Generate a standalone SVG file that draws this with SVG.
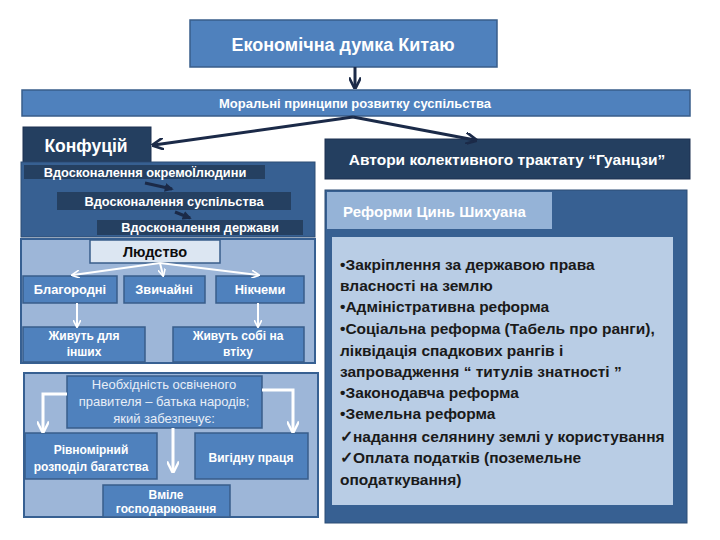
<svg xmlns="http://www.w3.org/2000/svg" width="720" height="540" viewBox="0 0 720 540">
<defs>
<style>
text{font-family:"Liberation Sans",Arial,sans-serif;}
.w{fill:#ffffff;}
.b{font-weight:bold;}
.c{text-anchor:middle;}
.mid{fill:#4f81bd;stroke:#385d8a;stroke-width:1.5;}
.navy{fill:#243f60;stroke:#1c3150;stroke-width:1;}
.bar{fill:#254061;}
.lt{fill:#9db6d8;stroke:#376092;stroke-width:2;}
.nav{stroke:#1b2a48;stroke-width:3;fill:none;}
.wl{stroke:#ffffff;stroke-width:3;fill:none;}
.rt{fill:#1a1a1a;font-size:15.5px;font-weight:bold;}
</style>
<marker id="an" viewBox="0 0 10 10" refX="8" refY="5" markerWidth="4" markerHeight="4" orient="auto" markerUnits="strokeWidth">
<path d="M0,0 L10,5 L0,10" fill="none" stroke="#1b2a48" stroke-width="2.2"/>
</marker>
<marker id="ad" viewBox="0 0 10 10" refX="8" refY="5" markerWidth="3" markerHeight="3" orient="auto" markerUnits="strokeWidth">
<path d="M0,0 L10,5 L0,10 z" fill="#1b2a48"/>
</marker>
<marker id="aw" viewBox="0 0 10 10" refX="8" refY="5" markerWidth="4" markerHeight="4" orient="auto" markerUnits="strokeWidth">
<path d="M0,0 L10,5 L0,10" fill="none" stroke="#ffffff" stroke-width="2"/>
</marker>
</defs>
<rect width="720" height="540" fill="#ffffff"/>

<g id="title">
<rect x="190" y="20" width="307" height="47" class="mid"/>
<text x="343" y="51" class="w c b" font-size="18">Економічна думка Китаю</text>
</g>

<g id="moral">
<rect x="22" y="90" width="668" height="26" class="mid"/>
<text x="355" y="108" class="w c b" font-size="13">Моральні принципи розвитку суспільства</text>
</g>

<g id="confucius">
<rect x="23" y="127" width="128" height="35" class="navy"/>
<text x="86" y="152" class="w c b" font-size="17.5">Конфуцій</text>
</g>

<g id="confucius-panel">
<rect x="21" y="162" width="294" height="75" fill="#376092" stroke="#2c4d75" stroke-width="1"/>
<rect x="24" y="165" width="241" height="14" class="bar"/>
<text x="145" y="177" class="w c b" font-size="12.8">Вдосконалення окремоЇлюдини</text>
<rect x="57" y="192" width="234" height="18" class="bar"/>
<text x="174" y="206" class="w c b" font-size="12.8">Вдосконалення суспільства</text>
<rect x="97" y="220" width="206" height="15" class="bar"/>
<text x="200" y="232" class="w c b" font-size="12.8">Вдосконалення держави</text>
</g>

<g id="humanity-panel">
<rect x="21" y="239" width="294" height="124" class="lt"/>
<g id="humanity">
<rect x="90" y="240" width="130" height="23" fill="#dce6f2" stroke="#385d8a" stroke-width="1.5"/>
<text x="155" y="257" class="c b" font-size="14.5" fill="#0d0d0d">Людство</text>
</g>
<g id="noble">
<rect x="23" y="276" width="94" height="27" class="mid"/>
<text x="70" y="294" class="w c b" font-size="12.8">Благородні</text>
</g>
<g id="ordinary">
<rect x="124" y="276" width="81" height="27" class="mid"/>
<text x="164" y="294" class="w c b" font-size="12.8">Звичайні</text>
</g>
<g id="worthless">
<rect x="216" y="276" width="88" height="27" class="mid"/>
<text x="260" y="294" class="w c b" font-size="12.8">Нікчеми</text>
</g>
<g id="live-others">
<rect x="23" y="327" width="122" height="35" class="mid"/>
<text x="84" y="340" class="w c b" font-size="12">Живуть для</text>
<text x="84" y="356" class="w c b" font-size="12">інших</text>
</g>
<g id="live-self">
<rect x="173" y="327" width="131" height="35" class="mid"/>
<text x="238" y="340" class="w c b" font-size="12">Живуть собі на</text>
<text x="238" y="356" class="w c b" font-size="12">втіху</text>
</g>
</g>

<g id="ruler-panel">
<rect x="24" y="373" width="294" height="144" class="lt"/>
<g id="ruler">
<rect x="67" y="376" width="195" height="52" class="mid"/>
<text x="164" y="389" class="c" fill="#e8eef7" font-size="13">Необхідність освіченого</text>
<text x="164" y="406" class="c" fill="#e8eef7" font-size="13">правителя – батька народів;</text>
<text x="164" y="423" class="c" fill="#e8eef7" font-size="13">який забезпечує:</text>
</g>
<g id="distribution">
<rect x="25" y="433" width="132" height="46" class="mid"/>
<text x="91" y="454" class="w c b" font-size="12">Рівномірний</text>
<text x="91" y="471" class="w c b" font-size="12">розподіл багатства</text>
</g>
<g id="labour">
<rect x="195" y="433" width="113" height="46" class="mid"/>
<text x="251" y="462" class="w c b" font-size="12">Вигідну праця</text>
</g>
<g id="management">
<rect x="103" y="485" width="127" height="32" class="mid"/>
<text x="166" y="499" class="w c b" font-size="12">Вміле</text>
<text x="166" y="513" class="w c b" font-size="12">господарювання</text>
</g>
</g>

<g id="guanzi">
<rect x="325" y="139" width="365" height="40" class="navy"/>
<text x="507" y="165" class="w c b" font-size="15.5">Автори колективного трактату “Гуанцзи”</text>
</g>

<g id="reforms-panel">
<rect x="325" y="190" width="362" height="333" fill="#376092" stroke="#2c4d75" stroke-width="1"/>
<g id="reforms-tab">
<rect x="327" y="192" width="225" height="37" fill="#95b3d7"/>
<text x="343" y="217" class="w b" font-size="15">Реформи Цинь Шихуана</text>
</g>
<g id="reforms-list">
<rect x="332" y="237" width="341" height="268" fill="#b9cde5"/>
<text class="rt">
<tspan x="340" y="270">•Закріплення за державою права</tspan>
<tspan x="340" y="291">власності на землю</tspan>
<tspan x="340" y="312">•Адміністративна реформа</tspan>
<tspan x="340" y="334">•Соціальна реформа (Табель про ранги),</tspan>
<tspan x="340" y="356">ліквідація спадкових рангів і</tspan>
<tspan x="340" y="377">запровадження “ титулів знатності ”</tspan>
<tspan x="340" y="398">•Законодавча реформа</tspan>
<tspan x="340" y="419">•Земельна реформа</tspan>
<tspan x="340" y="442">✓надання селянину землі у користування</tspan>
<tspan x="340" y="463">✓Оплата податків (поземельне</tspan>
<tspan x="340" y="485">оподаткування)</tspan>
</text>
</g>
</g>

<g id="connectors">
<line x1="355" y1="67" x2="355" y2="87" class="nav" marker-end="url(#an)"/>
<line x1="353" y1="117" x2="154" y2="145" class="nav" marker-end="url(#an)"/>
<line x1="353" y1="117" x2="475" y2="140" class="nav" marker-end="url(#an)"/>
<line x1="145" y1="183" x2="172" y2="189" stroke="#1b2a48" stroke-width="3" marker-end="url(#ad)"/>
<line x1="175" y1="212" x2="190" y2="218" stroke="#1b2a48" stroke-width="3" marker-end="url(#ad)"/>
<line x1="160" y1="263" x2="73" y2="275" stroke="#ffffff" stroke-width="2" fill="none" marker-end="url(#aw)"/>
<line x1="160" y1="263" x2="163" y2="275" stroke="#ffffff" stroke-width="2" fill="none" marker-end="url(#aw)"/>
<line x1="160" y1="263" x2="258" y2="275" stroke="#ffffff" stroke-width="2" fill="none" marker-end="url(#aw)"/>
<line x1="77" y1="303" x2="77" y2="326" stroke="#ffffff" stroke-width="2" fill="none" marker-end="url(#aw)"/>
<line x1="258" y1="303" x2="258" y2="326" stroke="#ffffff" stroke-width="2" fill="none" marker-end="url(#aw)"/>
<polyline points="67,394 43,394 43,431" class="wl" marker-end="url(#aw)"/>
<polyline points="262,390 293,390 293,431" class="wl" marker-end="url(#aw)"/>
<line x1="173" y1="428" x2="173" y2="471" class="wl" marker-end="url(#aw)"/>
</g>
</svg>
